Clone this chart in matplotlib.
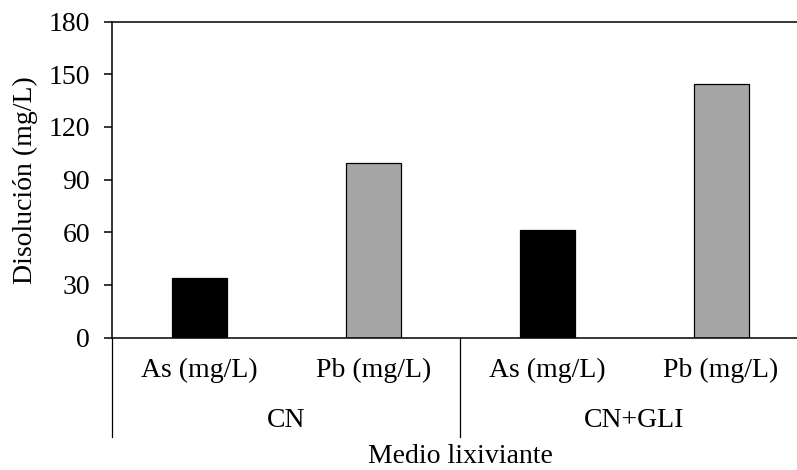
import matplotlib
matplotlib.use("Agg")
import matplotlib.pyplot as plt
import matplotlib.transforms as mtransforms

# Datos
grupos = ["CN", "CN+GLI"]
elementos = ["As (mg/L)", "Pb (mg/L)"]
valores = [33.7, 99.3, 61.1, 144.5]   # As CN, Pb CN, As CN+GLI, Pb CN+GLI
colores = ["#000000", "#a6a6a6", "#000000", "#a6a6a6"]
y_ticks = [0, 30, 60, 90, 120, 150, 180]

plt.rcParams["font.family"] = ["Liberation Serif", "DejaVu Serif"]
plt.rcParams["font.size"] = 20

fig = plt.figure(figsize=(7.97, 4.70), dpi=100, facecolor="w")
ax = fig.add_axes([0.1409, 0.2819, 0.873, 0.672])

x = list(range(len(valores)))
ax.bar(x, valores, width=0.316, color=colores, edgecolor="black", linewidth=0.9)

ax.set_xlim(-0.5, len(valores) - 0.5)
ax.set_ylim(0, 180)
ax.set_yticks(y_ticks)
ax.tick_params(axis="y", direction="out", length=6, width=1.1, pad=10)
ax.set_xticks(x)
ax.set_xticklabels(elementos * len(grupos))
ax.tick_params(axis="x", length=0, pad=15)

for s in ["left", "bottom", "top"]:
    ax.spines[s].set_linewidth(1.1)
ax.spines["right"].set_visible(False)

# etiquetas de grupo y líneas separadoras
trans = mtransforms.blended_transform_factory(ax.transData, ax.transAxes)
for i, g in enumerate(grupos):
    centro = i * len(elementos) + (len(elementos) - 1) / 2
    ax.text(centro, -0.262, g, transform=trans, ha="center", va="center")
for i in range(len(grupos) + 1):
    xs = i * len(elementos) - 0.5
    ax.plot([xs, xs], [0, -0.314], transform=trans, color="black",
            linewidth=0.9, clip_on=False)

ax.text(0.5, -0.378, "Medio lixiviante", transform=ax.transAxes,
        ha="center", va="center")
fig.text(25 / 797, 1 - 180 / 470, "Disolución (mg/L)", rotation=90,
         ha="center", va="center")

fig.savefig("out.png", dpi=100)
